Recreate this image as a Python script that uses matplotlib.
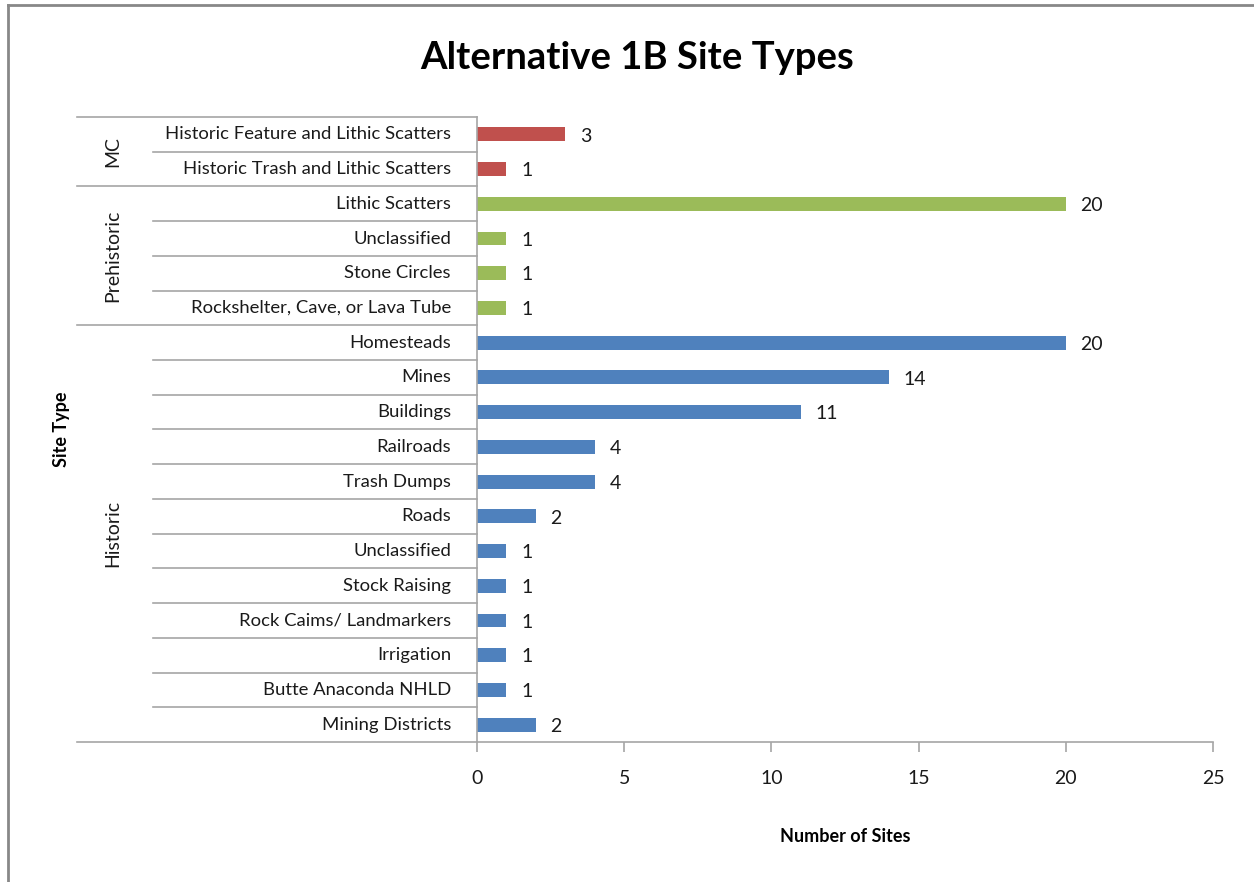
import matplotlib
matplotlib.use('Agg')
import matplotlib.pyplot as plt
import matplotlib.transforms as mtransforms
from matplotlib.lines import Line2D

plt.rcParams['font.family'] = ['Lato', 'DejaVu Sans']

# site types, listed top to bottom
group_names = ['MC', 'Prehistoric', 'Historic']
mc_types = ['Historic Feature and Lithic Scatters', 'Historic Trash and Lithic Scatters']
mc_counts = [3, 1]
pre_types = ['Lithic Scatters', 'Unclassified', 'Stone Circles', 'Rockshelter, Cave, or Lava Tube']
pre_counts = [20, 1, 1, 1]
hist_types = ['Homesteads', 'Mines', 'Buildings', 'Railroads', 'Trash Dumps', 'Roads',
              'Unclassified', 'Stock Raising', 'Rock Caims/ Landmarkers', 'Irrigation',
              'Butte Anaconda NHLD', 'Mining Districts']
hist_counts = [20, 14, 11, 4, 4, 2, 1, 1, 1, 1, 1, 2]
group_colors = ['#C0504D', '#9BBB59', '#4F81BD']

W, H = 1254, 882
fig = plt.figure(figsize=(W / 100, H / 100), dpi=100)

# axes placed in pixel terms
x0, x1, ytop, ybot = 477, 1213, 117, 742
ax = fig.add_axes([x0 / W, (H - ybot) / H, (x1 - x0) / W, (ybot - ytop) / H])

labels, counts, colors, spans = [], [], [], []
start = 0
for name, types, vals, col in zip(group_names, [mc_types, pre_types, hist_types],
                                  [mc_counts, pre_counts, hist_counts], group_colors):
    labels += types
    counts += vals
    colors += [col] * len(types)
    spans.append((name, start, start + len(types) - 1))
    start += len(types)

ypos = list(range(len(labels)))
ax.barh(ypos, counts, height=0.4, color=colors)
ax.set_ylim(len(labels) - 0.5, -0.5)
ax.set_xlim(0, 25)
ax.set_xticks([0, 5, 10, 15, 20, 25])

txt = '#1a1a1a'
for y, v in zip(ypos, counts):
    ax.text(v + 0.5, y + 0.05, str(v), va='center', ha='left', fontsize=14, color=txt)

grey = '#A6A6A6'
for s in ['top', 'right']:
    ax.spines[s].set_visible(False)
for s in ['left', 'bottom']:
    ax.spines[s].set_color(grey)
    ax.spines[s].set_linewidth(1.2)
ax.tick_params(axis='x', direction='out', length=7, width=1.2, color=grey,
               labelsize=14, labelcolor=txt, pad=13)
ax.tick_params(axis='y', length=0, labelleft=False)

# category labels and the row separators of the two-level axis
trans = mtransforms.blended_transform_factory(ax.transAxes, ax.transData)
inner_x = (153 - x0) / (x1 - x0)
outer_x = (77 - x0) / (x1 - x0)
label_x = (451 - x0) / (x1 - x0)
group_x = (113 - x0) / (x1 - x0)

for y, lab in zip(ypos, labels):
    ax.text(label_x, y, lab, transform=trans, ha='right', va='center',
            fontsize=13.3, color=txt)

group_edges = {-0.5} | {e + 0.5 for _, _, e in spans}
for k in range(len(labels) + 1):
    yb = k - 0.5
    xs = outer_x if yb in group_edges else inner_x
    ax.add_line(Line2D([xs, 0], [yb, yb], transform=trans, color=grey,
                       lw=1.2, clip_on=False))

for name, s, e in spans:
    ax.text(group_x, (s + e) / 2, name, transform=trans, rotation=90,
            ha='center', va='center', fontsize=14, color=txt)

ax.text((62 - x0) / (x1 - x0), 8.5, 'Site Type', transform=trans, rotation=90,
        ha='center', va='center', fontsize=13, fontweight='bold')
fig.text(845 / W, 1 - 836 / H, 'Number of Sites', ha='center', va='center',
         fontsize=13, fontweight='bold')
fig.text(637 / W, 1 - 58 / H, 'Alternative 1B Site Types', ha='center', va='center',
         fontsize=27.5, fontweight='bold')

# frame edges along the top and left
fig.add_artist(Line2D([8 / W, 1], [1 - 5 / H, 1 - 5 / H], color='#888888', lw=2))
fig.add_artist(Line2D([8 / W, 8 / W], [0, 1 - 5 / H], color='#888888', lw=2))

fig.savefig('out.png', dpi=100)
